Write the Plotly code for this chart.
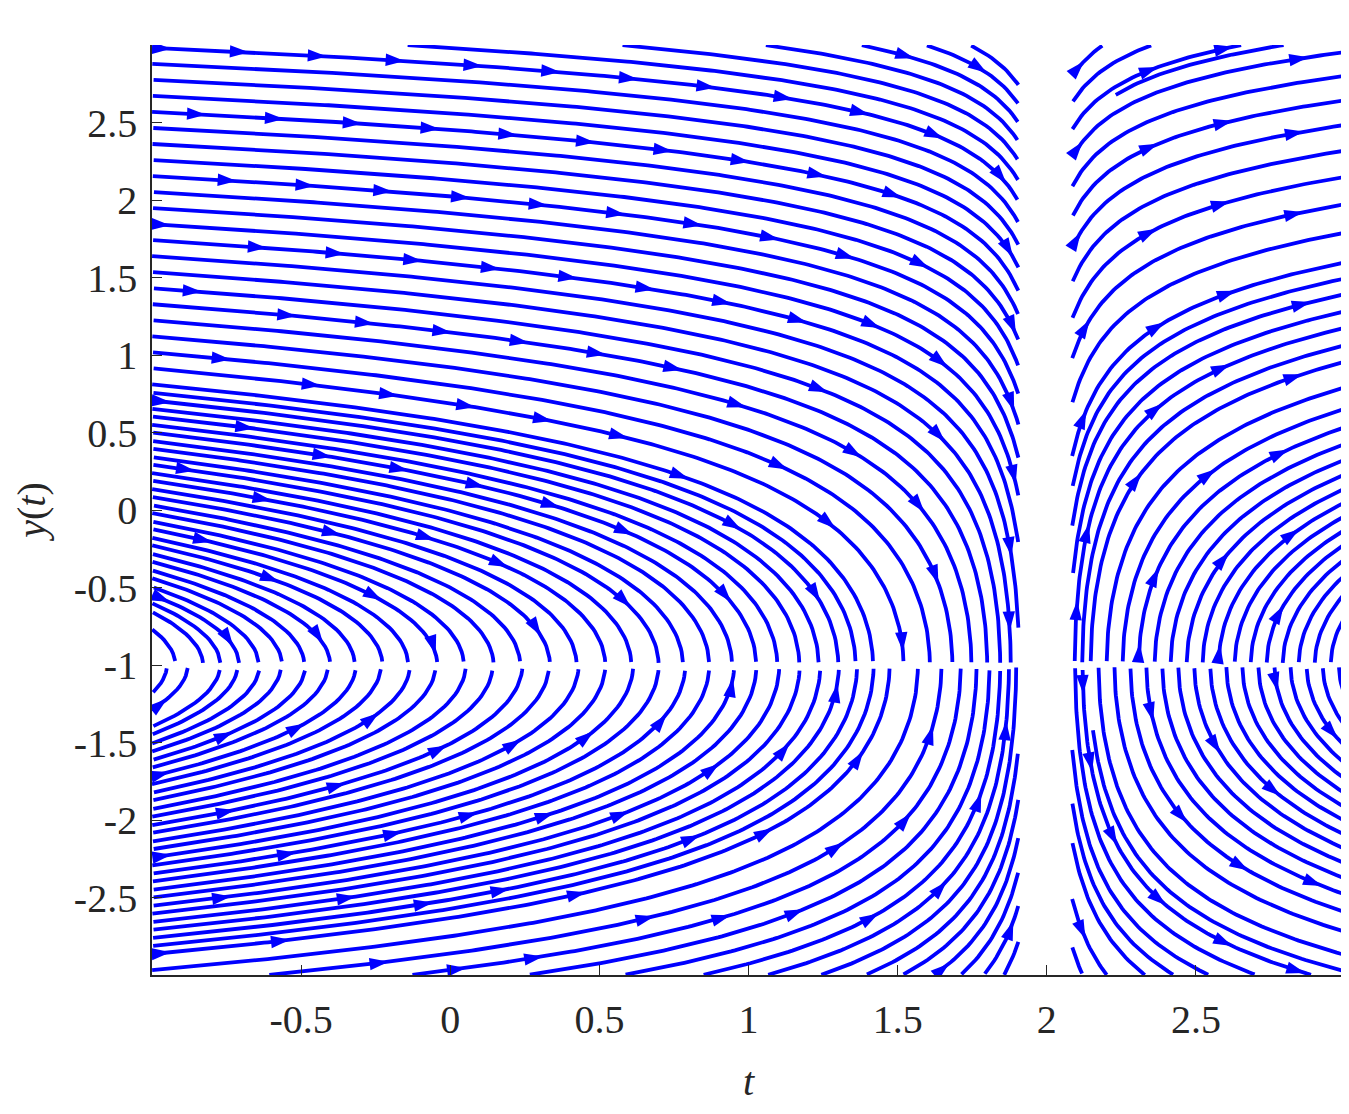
import math
from collections import deque
import numpy as np
import plotly.graph_objects as go

# ---------------- data ----------------
T_RANGE = [-1.0, 3.0]
Y_RANGE = [-3.0, 3.0]
T_SINGULAR = 2.0          # dy/dt = 1 / ((t - 2) (y + 1))
Y_SINGULAR = -1.0
T_CUT = [1.905, 2.085]    # field left undefined around t = 2
Y_CUT = 0.013             # field left undefined around y = -1
X_TICK_VALS = [-0.5, 0.0, 0.5, 1.0, 1.5, 2.0, 2.5]
X_TICK_TEXT = ["-0.5", "0", "0.5", "1", "1.5", "2", "2.5"]
Y_TICK_VALS = [-2.5, -2.0, -1.5, -1.0, -0.5, 0.0, 0.5, 1.0, 1.5, 2.0, 2.5]
Y_TICK_TEXT = ["-2.5", "-2", "-1.5", "-1", "-0.5", "0", "0.5", "1", "1.5", "2", "2.5"]
X_LABEL = "<i>t</i>"
Y_LABEL = "<i>y</i>(<i>t</i>)"

# ---------------- streamline computation (evenly spaced) ----------------
W, H = 1193.0, 930.0
SX = W / (T_RANGE[1] - T_RANGE[0])
SY = H / (Y_RANGE[1] - Y_RANGE[0])


def to_data(px, py):
    return T_RANGE[0] + px / SX, Y_RANGE[0] + py / SY


def region(px, py):
    if px < 0 or px > W or py < 0 or py > H:
        return None
    t, y = to_data(px, py)
    if T_CUT[0] < t < T_CUT[1]:
        return None
    if abs(y - Y_SINGULAR) < Y_CUT:
        return None
    return (t > T_SINGULAR, y > Y_SINGULAR)


def direction(px, py):
    t, y = to_data(px, py)
    a = (t - T_SINGULAR) * (y - Y_SINGULAR)
    s = 1.0 if a >= 0 else -1.0
    dx = abs(a) * SX
    dy = s * SY
    n = math.hypot(dx, dy)
    return dx / n, dy / n


DSEP = 16.0
DTEST = 7.0
STEP = 2.0
MINLEN = 30.0
CELL = DTEST
grid = {}


def cell(px, py):
    return (int(px // CELL), int(py // CELL))


def near(px, py, r):
    cx, cy = cell(px, py)
    k = int(math.ceil(r / CELL))
    r2 = r * r
    for i in range(cx - k, cx + k + 1):
        for j in range(cy - k, cy + k + 1):
            lst = grid.get((i, j))
            if lst:
                for (qx, qy) in lst:
                    if (qx - px) ** 2 + (qy - py) ** 2 < r2:
                        return True
    return False


def trace_dir(sx, sy, sgn, reg):
    pts = []
    x, y = sx, sy
    for _ in range(5000):
        dx, dy = direction(x, y)
        mx, my = x + sgn * dx * STEP * 0.5, y + sgn * dy * STEP * 0.5
        if region(mx, my) != reg:
            break
        dx, dy = direction(mx, my)
        nx, ny = x + sgn * dx * STEP, y + sgn * dy * STEP
        if region(nx, ny) != reg:
            break
        if near(nx, ny, DTEST):
            break
        pts.append((nx, ny))
        x, y = nx, ny
    return pts


def build(sx, sy):
    reg = region(sx, sy)
    if reg is None:
        return None
    if near(sx, sy, DSEP * 0.97):
        return None
    b = trace_dir(sx, sy, -1, reg)
    f = trace_dir(sx, sy, 1, reg)
    line = b[::-1] + [(sx, sy)] + f
    if len(line) * STEP < MINLEN:
        return None
    for p in line:
        grid.setdefault(cell(*p), []).append(p)
    return line


lines = []
queue = deque()
cands = [(x, y) for y in np.arange(H - 3, 0, -DSEP) for x in np.arange(3, W, DSEP)]
ci = 0
while True:
    if queue:
        s = queue.popleft()
    elif ci < len(cands):
        s = cands[ci]
        ci += 1
    else:
        break
    line = build(*s)
    if line:
        lines.append(line)
        for k in range(0, len(line), 3):
            px, py = line[k]
            dx, dy = direction(px, py)
            queue.append((px - dy * DSEP, py + dx * DSEP))
            queue.append((px + dy * DSEP, py - dx * DSEP))

# ---------------- arrows ----------------
ARROW_SEP = 72.0
arrows = []
agrid = {}
ACELL = ARROW_SEP


def arrow_near(px, py):
    cx, cy = int(px // ACELL), int(py // ACELL)
    for i in range(cx - 1, cx + 2):
        for j in range(cy - 1, cy + 2):
            for (qx, qy) in agrid.get((i, j), []):
                if (qx - px) ** 2 + (qy - py) ** 2 < ARROW_SEP ** 2:
                    return True
    return False


for line in lines:
    L = (len(line) - 1) * STEP
    for i in range(1, len(line)):
        s = i * STEP
        if s < 18 or s > L - 6 or i % 3:
            continue
        px, py = line[i]
        if arrow_near(px, py):
            continue
        dx = line[i][0] - line[i - 1][0]
        dy = line[i][1] - line[i - 1][1]
        ang = math.degrees(math.atan2(dx, dy))
        arrows.append((px, py, ang))
        agrid.setdefault((int(px // ACELL), int(py // ACELL)), []).append((px, py))

# ---------------- figure ----------------
lx, ly = [], []
for line in lines:
    for k, (px, py) in enumerate(line):
        if k % 2 and k != len(line) - 1:
            continue
        t, y = to_data(px, py)
        lx.append(t)
        ly.append(y)
    lx.append(None)
    ly.append(None)

ax = [to_data(a[0], a[1])[0] for a in arrows]
ay = [to_data(a[0], a[1])[1] for a in arrows]
aang = [a[2] for a in arrows]

BLUE = "#0000ff"
fig = go.Figure()
fig.add_trace(go.Scatter(x=lx, y=ly, mode="lines",
                         line=dict(color=BLUE, width=3.8),
                         hoverinfo="skip", showlegend=False))
fig.add_trace(go.Scatter(x=ax, y=ay, mode="markers",
                         marker=dict(symbol="arrow", size=20, angle=aang,
                                     color=BLUE, line=dict(width=0)),
                         hoverinfo="skip", showlegend=False))

AX_COLOR = "#262626"
FONT = "Liberation Serif, Times New Roman, serif"
fig.update_layout(
    width=1340, height=1096,
    margin=dict(l=144, r=3, t=37, b=129),
    plot_bgcolor="white", paper_bgcolor="white",
    font=dict(family=FONT, size=40, color=AX_COLOR),
    showlegend=False,
    xaxis=dict(range=T_RANGE, showline=True, linecolor=AX_COLOR, linewidth=1.6,
               ticks="inside", ticklen=10, tickwidth=1.3, tickcolor=AX_COLOR,
               tickvals=X_TICK_VALS, ticktext=X_TICK_TEXT, ticklabelstandoff=8,
               showgrid=False, zeroline=False, layer="above traces",
               title=dict(text=X_LABEL, standoff=28, font=dict(size=40))),
    yaxis=dict(range=Y_RANGE, showline=True, linecolor=AX_COLOR, linewidth=1.6,
               ticks="inside", ticklen=10, tickwidth=1.3, tickcolor=AX_COLOR,
               tickvals=Y_TICK_VALS, ticktext=Y_TICK_TEXT, ticklabelstandoff=5,
               showgrid=False, zeroline=False, layer="above traces",
               title=dict(text=Y_LABEL, standoff=16, font=dict(size=40))),
)
fig.write_html("out.html")
